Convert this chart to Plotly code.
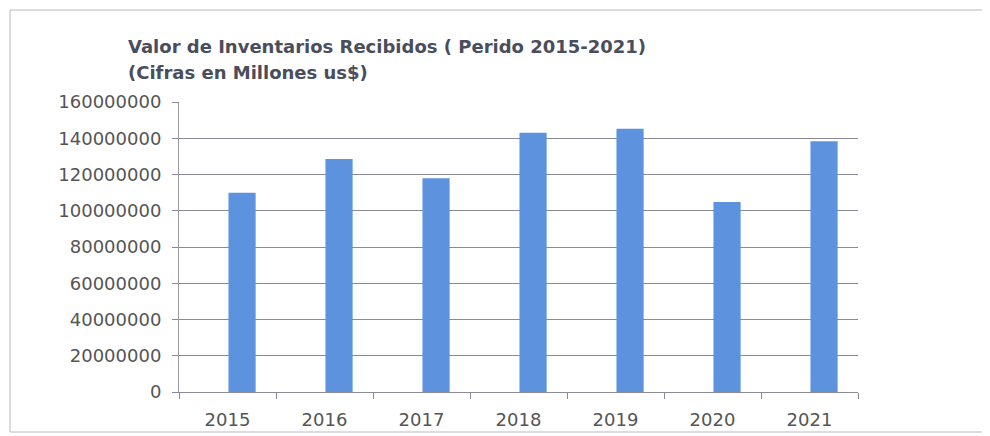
import plotly.graph_objects as go

years = ["2015", "2016", "2017", "2018", "2019", "2020", "2021"]
valores = [110000000, 128500000, 118000000, 143000000, 145300000, 104800000, 138300000]
y_ticks = [0, 20000000, 40000000, 60000000, 80000000, 100000000, 120000000, 140000000, 160000000]
title_line1 = "Valor de Inventarios Recibidos ( Perido 2015-2021)"
title_line2 = "(Cifras en Millones us$)"

OFF = 8  # page body offset
W, H = 990, 436
L, R, T, B = 179 - OFF, 132 + OFF, 102 - OFF, 44 + OFF
pw, ph = W - L - R, H - T - B

def px(x):
    return (x - OFF - L) / pw

def py(y):
    return (H - B - (y - OFF)) / ph

FONT = "DejaVu Sans"

fig = go.Figure()
fig.add_trace(go.Bar(
    x=years, y=valores,
    marker=dict(color="#5c92de", line=dict(width=0)),
    width=0.28, offset=0.01,
))

fig.update_layout(
    width=W, height=H,
    margin=dict(l=L, r=R, t=T, b=B),
    paper_bgcolor="white", plot_bgcolor="white",
    showlegend=False,
    font=dict(family=FONT, color="#555555", size=18),
)
fig.update_yaxes(
    range=[0, 160000000],
    tickvals=y_ticks,
    ticktext=[str(v) for v in y_ticks],
    showgrid=True, gridcolor="#8a8a96", gridwidth=1,
    showline=True, linecolor="#9a9aa8", linewidth=1,
    ticks="outside", ticklen=6, tickcolor="#8a8a96",
    zeroline=False,
    tickfont=dict(family=FONT, size=18, color="#555555"),
    ticklabelstandoff=7,
)
fig.update_xaxes(
    showline=True, linecolor="#8a8a96", linewidth=1,
    ticks="outside", ticklen=6, tickcolor="#8a8a96",
    tickson="boundaries",
    tickfont=dict(family=FONT, size=18, color="#555555"),
    ticklabelstandoff=11,
)

fig.add_annotation(
    text="<b>" + title_line1 + "</b>", xref="paper", yref="paper",
    x=px(126), y=py(46), xanchor="left", yanchor="middle", showarrow=False,
    font=dict(family=FONT, size=18, color="#4a4d5c"),
)
fig.add_annotation(
    text="<b>" + title_line2 + "</b>", xref="paper", yref="paper",
    x=px(126), y=py(72), xanchor="left", yanchor="middle", showarrow=False,
    font=dict(family=FONT, size=18, color="#4a4d5c"),
)

fig.add_shape(
    type="rect", xref="paper", yref="paper",
    x0=px(10), x1=px(1000), y0=py(432), y1=py(10),
    line=dict(color="#b8b8c4", width=1), fillcolor="rgba(0,0,0,0)", layer="below",
)

fig.write_html("out.html")
